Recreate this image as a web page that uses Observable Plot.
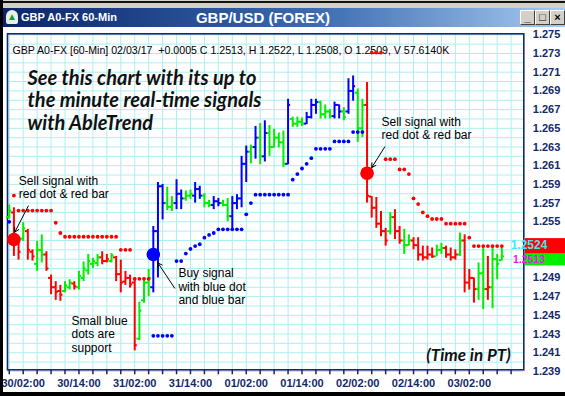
<!DOCTYPE html>
<html><head><meta charset="utf-8">
<script src="https://cdn.jsdelivr.net/npm/d3@7"></script>
<script src="https://cdn.jsdelivr.net/npm/@observablehq/plot@0.6"></script>
<style>
body{margin:0;background:#fff;}
#win{position:relative;width:565px;height:396px;overflow:hidden;background:#fff;font-family:"Liberation Sans",Arial,sans-serif;}
#win svg{position:absolute;left:0;top:0;}
.abs{position:absolute;}
.btn{position:absolute;top:10px;width:13px;height:13px;background:#d4d0c8;border-top:1px solid #fff;border-left:1px solid #fff;border-right:1px solid #404040;border-bottom:1px solid #404040;box-sizing:content-box;font:bold 11px "Liberation Sans",Arial,sans-serif;color:#000;text-align:center;line-height:13px;}
</style></head>
<body>
<div id="win">
</div>
<script>
// ---------------- data ----------------
const firstBarHour = -3; // first bar = 29/23:00, hours counted from 30/02:00
const barColor = ["g","r","r","g","r","r","g","g","r","r",
 "r","r","g","g","r","g","g","g","g","g",
 "r","r","g","r","r","r","r","r","g","g",
 "g","b","b","b","g","g","b","b","g","g",
 "b","b","g","g","b","b","g","g","b","b",
 "b","b","g","b","g","b","g","g","g","g",
 "b","g","g","g","b","b","b","g","g","g",
 "b","b","g","b","b","g","g","r","r","r",
 "r","r","g","r","r","g","g","r","r","r",
 "r","r","g","g","r","r","r","g","r","r",
 "r","g","g","r","g","g","g"];
const open = [1.2555,1.2560,1.2530,1.2532,1.2540,1.2518,1.2505,1.2520,1.2515,1.2490,
 1.2480,1.2476,1.2476,1.2480,1.2484,1.2480,1.2490,1.2498,1.2505,1.2506,
 1.2512,1.2508,1.2508,1.2512,1.2494,1.2486,1.2490,1.2485,1.2425,1.2466,
 1.2485,1.2480,1.2540,1.2588,1.2570,1.2566,1.2570,1.2580,1.2575,1.2578,
 1.2578,1.2585,1.2578,1.2570,1.2568,1.2572,1.2570,1.2568,1.2556,1.2570,
 1.2575,1.2612,1.2625,1.2630,1.2640,1.2620,1.2645,1.2630,1.2640,1.2635,
 1.2612,1.2660,1.2655,1.2657,1.2655,1.2662,1.2675,1.2678,1.2665,1.2668,
 1.2663,1.2675,1.2668,1.2668,1.2690,1.2688,1.2650,1.2675,1.2577,1.2565,
 1.2548,1.2540,1.2540,1.2555,1.2540,1.2530,1.2525,1.2530,1.2525,1.2515,
 1.2512,1.2515,1.2513,1.2520,1.2522,1.2515,1.2512,1.2515,1.2530,1.2485,
 1.2490,1.2478,1.2495,1.2478,1.2480,1.2510,1.2509];
const high = [1.2568,1.2565,1.2533,1.2549,1.2542,1.2520,1.2529,1.2536,1.2518,1.2493,
 1.2486,1.2482,1.2486,1.2488,1.2486,1.2497,1.2507,1.2515,1.2511,1.2515,
 1.2518,1.2515,1.2516,1.2513,1.2509,1.2497,1.2493,1.2490,1.2464,1.2490,
 1.2499,1.2545,1.2592,1.2590,1.2587,1.2577,1.2595,1.2584,1.2583,1.2584,
 1.2592,1.2588,1.2580,1.2573,1.2577,1.2575,1.2573,1.2575,1.2577,1.2579,
 1.2620,1.2631,1.2632,1.2652,1.2655,1.2658,1.2653,1.2649,1.2645,1.2647,
 1.2681,1.2662,1.2662,1.2661,1.2667,1.2681,1.2681,1.2679,1.2675,1.2670,
 1.2678,1.2675,1.2672,1.2703,1.2706,1.2692,1.2681,1.2699,1.2577,1.2576,
 1.2561,1.2543,1.2560,1.2563,1.2545,1.2542,1.2536,1.2533,1.2533,1.2524,
 1.2524,1.2522,1.2525,1.2527,1.2524,1.2522,1.2520,1.2538,1.2536,1.2499,
 1.2490,1.2506,1.2524,1.2513,1.2524,1.2515,1.2522];
const low = [1.2553,1.2513,1.2509,1.2529,1.2509,1.2508,1.2497,1.2506,1.2497,1.2472,
 1.2466,1.2465,1.2474,1.2477,1.2477,1.2477,1.2486,1.2493,1.2500,1.2502,
 1.2504,1.2506,1.2506,1.2486,1.2474,1.2482,1.2479,1.2412,1.2423,1.2463,
 1.2470,1.2474,1.2490,1.2552,1.2562,1.2561,1.2563,1.2563,1.2572,1.2574,
 1.2570,1.2574,1.2565,1.2565,1.2563,1.2566,1.2566,1.2550,1.2541,1.2563,
 1.2565,1.2592,1.2612,1.2617,1.2611,1.2614,1.2620,1.2629,1.2629,1.2608,
 1.2611,1.2651,1.2651,1.2652,1.2654,1.2660,1.2665,1.2660,1.2660,1.2660,
 1.2660,1.2660,1.2658,1.2665,1.2679,1.2635,1.2640,1.2570,1.2554,1.2543,
 1.2534,1.2524,1.2536,1.2531,1.2526,1.2515,1.2524,1.2520,1.2508,1.2508,
 1.2509,1.2511,1.2513,1.2515,1.2511,1.2508,1.2509,1.2513,1.2474,1.2477,
 1.2463,1.2466,1.2456,1.2466,1.2457,1.2488,1.2508];
const close = [1.2562,1.2530,1.2518,1.2543,1.2520,1.2513,1.2520,1.2515,1.2500,1.2480,
 1.2475,1.2472,1.2482,1.2485,1.2481,1.2492,1.2500,1.2508,1.2508,1.2512,
 1.2508,1.2510,1.2514,1.2494,1.2485,1.2490,1.2483,1.2418,1.2455,1.2485,
 1.2490,1.2540,1.2588,1.2570,1.2566,1.2570,1.2580,1.2575,1.2578,1.2580,
 1.2585,1.2578,1.2570,1.2568,1.2572,1.2570,1.2568,1.2556,1.2570,1.2575,
 1.2612,1.2625,1.2630,1.2640,1.2620,1.2645,1.2630,1.2640,1.2635,1.2612,
 1.2675,1.2655,1.2657,1.2655,1.2662,1.2675,1.2678,1.2665,1.2668,1.2663,
 1.2675,1.2668,1.2662,1.2690,1.2695,1.2650,1.2675,1.2578,1.2565,1.2548,
 1.2540,1.2530,1.2555,1.2540,1.2530,1.2525,1.2530,1.2525,1.2515,1.2512,
 1.2515,1.2513,1.2520,1.2522,1.2515,1.2512,1.2515,1.2530,1.2485,1.2490,
 1.2478,1.2495,1.2478,1.2480,1.2510,1.2505,1.2513];
// small red dots (resistance / stop) per bar
const resDot = [null,1.2578,1.2562,1.2562,1.2562,1.2562,1.2562,1.2562,1.2562,1.2562,
 1.2549,1.2538,1.2534,1.2534,1.2534,1.2534,1.2534,1.2534,1.2534,1.2534,
 1.2534,1.2534,1.2534,1.2534,1.2520,1.2520,1.2520,1.2489,1.2489,1.2489,
 1.2489,null,null,null,null,null,null,null,null,null,
 null,null,null,null,null,null,null,null,null,null,
 null,null,null,null,null,null,null,null,null,null,
 null,null,null,null,null,null,null,null,null,null,
 null,null,null,null,null,null,null,null,1.2731,1.2731,
 1.2731,1.2617,1.2617,1.2617,1.2606,1.2606,1.2601,1.2575,1.2569,1.2560,
 1.2556,1.2553,1.2553,1.2553,1.2548,1.2548,1.2548,1.2548,1.2548,1.2533,
 1.2524,1.2524,1.2524,1.2524,1.2524,1.2524,1.2524];
// small blue dots (support) per bar
const supDot = [1.2550,null,null,null,null,null,null,null,null,null,
 null,null,null,null,null,null,null,null,null,null,
 null,null,null,null,null,null,null,null,null,null,
 null,1.2428,1.2428,1.2428,1.2428,1.2428,1.2508,1.2508,1.2516,1.2521,
 1.2524,1.2526,1.2533,1.2536,1.2538,1.2542,1.2542,1.2542,1.2542,1.2542,
 1.2542,1.2558,1.2570,1.2579,1.2579,1.2579,1.2579,1.2579,1.2579,1.2579,
 1.2579,1.2595,1.2601,1.2607,1.2612,1.2618,1.2628,1.2628,1.2628,1.2628,
 1.2636,1.2636,1.2636,1.2636,1.2646,1.2646,1.2646,null,null,null,
 null,null,null,null,null,null,null,null,null,null,
 null,null,null,null,null,null,null,null,null,null,
 null,null,null,null,null,null,null];
// big signal dots
const signalBar = [1, 31, 77];
const signalPrice = [1.2531, 1.2515, 1.2602];
const signalColor = ["r", "b", "r"];
// axis labels (1.253 and 1.251 are hidden behind the last-price boxes)
const xLabelHours = [0, 12, 24, 36, 48, 60, 72, 84, 96];
const xLabels = ["30/02:00","30/14:00","31/02:00","31/14:00","01/02:00","01/14:00","02/02:00","02/14:00","03/02:00"];
const yTicks = [1.239,1.241,1.243,1.245,1.247,1.249,1.255,1.257,1.259,1.261,1.263,1.265,1.267,1.269,1.271,1.273,1.275];
// last price boxes
const lastPrices = [1.2513, 1.2524];
const lastBoxFill = ["#00ee00", "#ff0000"];
const lastBoxText = ["#e020e0", "#40e8f0"];
// texts
const headerText = "GBP A0-FX [60-Min] 02/03/17  +0.0005 C 1.2513, H 1.2522, L 1.2508, O 1.2509, V 57.6140K";
const promoText = "See this chart with its up to\nthe minute real-time signals\nwith AbleTrend";
const noteText = ["Sell signal with\nred dot & red bar", "Buy signal\nwith blue dot\nand blue bar", "Small blue\ndots are\nsupport", "Sell signal with\nred dot & red bar"];
const noteHour = [-0.95, 33.4, 10.4, 77.1];
const notePrice = [1.2587, 1.2481, 1.2430, 1.2650];
const arrowFromHour = [1.1, 32.6, 77.8];
const arrowFromPrice = [1.2567, 1.2479, 1.2630];
const arrowToHour = [-1.8, 29.0, 75.0];
const arrowToPrice = [1.2539, 1.2506, 1.2608];

// ---------------- build ----------------
const colorOf = {r: "#ff0000", g: "#00ee00", b: "#0000ff"};
const bars = open.map((o, i) => ({
  h: firstBarHour + i, o, hi: high[i], lo: low[i], c: close[i],
  col: colorOf[barColor[i]], res: resDot[i], sup: supDot[i]
}));
const signals = signalBar.map((b, i) => ({h: firstBarHour + b, p: signalPrice[i], col: colorOf[signalColor[i]]}));
const notes = noteText.map((t, i) => ({t, h: noteHour[i], p: notePrice[i]}));
const arrows = arrowFromHour.map((h, i) => ({x1: h, y1: arrowFromPrice[i], x2: arrowToHour[i], y2: arrowToPrice[i]}));
const navy = "#12296b";
const tickLen = 0.55;

const chart = Plot.plot({
  width: 565, height: 396,
  marginLeft: 7, marginRight: 41.7, marginTop: 33.3, marginBottom: 26.7,
  x: {domain: [-3.378, 107.73]},
  y: {domain: [1.239171, 1.275107]},
  color: {type: "identity"},
  style: {fontFamily: "'Liberation Sans', Arial, sans-serif", background: "transparent", overflow: "visible"},
  marks: [
    Plot.gridY(d3.range(1239, 1276).map(v => v / 1000), {stroke: "#aaf0f0", strokeOpacity: 1}),
    Plot.gridX(d3.range(-3, 108, 3), {stroke: "#aaf0f0", strokeOpacity: 1}),
    Plot.frame({stroke: navy, strokeWidth: 1.6}),
    Plot.axisX({ticks: d3.range(-3, 106, 3), tickSize: 5, tickPadding: 4, stroke: navy, strokeWidth: 1.5,
      fill: navy, fontSize: 11, fontWeight: "bold",
      tickFormat: h => { const k = xLabelHours.indexOf(h); return k >= 0 ? xLabels[k] : ""; }}),
    Plot.axisY({anchor: "right", ticks: yTicks, tickSize: 0, tickPadding: 9, fill: navy,
      fontSize: 11, fontWeight: "bold", tickFormat: d3.format(".3f")}),
    Plot.text([headerText], {frameAnchor: "top-left", dx: 5, dy: 17, lineAnchor: "middle", textAnchor: "start",
      fontSize: 10.6, fill: "#000"}),
    Plot.ruleX(bars, {x: "h", y1: "lo", y2: "hi", stroke: "col", strokeWidth: 2}),
    Plot.ruleY(bars, {y: "o", x1: d => d.h - tickLen, x2: "h", stroke: "col", strokeWidth: 2}),
    Plot.ruleY(bars, {y: "c", x1: "h", x2: d => d.h + tickLen, stroke: "col", strokeWidth: 2}),
    Plot.dot(bars.filter(d => d.res != null), {x: "h", y: "res", r: 1.9, fill: "#ff0000"}),
    Plot.dot(bars.filter(d => d.sup != null), {x: "h", y: "sup", r: 1.9, fill: "#0000ff"}),
    Plot.dot(signals, {x: "h", y: "p", r: 6.8, fill: "col"}),
    Plot.text([promoText], {frameAnchor: "top-left", dx: 20, dy: 35, lineAnchor: "top", textAnchor: "start",
      fontSize: 20, fontWeight: "bold", fontStyle: "italic", lineHeight: 1.13, fill: "#111",
      fontFamily: "Lato, sans-serif"}),
    Plot.text(["(Time in PT)"], {frameAnchor: "bottom-right", dx: -13, dy: -14, lineAnchor: "middle", textAnchor: "end",
      fontSize: 17, fontWeight: "bold", fontStyle: "italic", fill: "#111", fontFamily: "Lato, sans-serif"}),
    Plot.text(notes, {x: "h", y: "p", text: "t", textAnchor: "start", lineAnchor: "middle", fontSize: 12, lineHeight: 1.12, fill: "#000"}),
    Plot.arrow(arrows, {x1: "x1", y1: "y1", x2: "x2", y2: "y2", stroke: "#000", strokeWidth: 1, headLength: 7})
  ]
});

// last-price boxes on the right price scale (red box drawn over the green one)
const ys = chart.scale("y");
const svg = d3.select(chart);
lastPrices.forEach((p, i) => {
  const y = ys.apply(p);
  const lower = i === 0;
  svg.append("rect").attr("x", 525).attr("y", y - 7.5).attr("width", 42).attr("height", lower ? 17 : 15).attr("fill", lastBoxFill[i]);
  svg.append("text").attr("x", 529).attr("y", lower ? y + 3.5 : y - 0.5).attr("dy", "0.36em").attr("fill", lastBoxText[i])
    .attr("font-size", lower ? 10.5 : 12).attr("font-weight", "bold").attr("font-family", "'Liberation Sans', Arial, sans-serif")
    .text(p.toFixed(4));
});

const win = document.getElementById("win");
win.appendChild(chart);

// window chrome (title bar, borders, buttons)
win.insertAdjacentHTML("beforeend", `
<div class="abs" style="left:0;top:0;width:565px;height:8px;background:#d4d0c8;"></div>
<div class="abs" style="left:0;top:1px;width:565px;height:2px;background:#111;"></div>
<div class="abs" style="left:3px;top:8px;width:562px;height:19px;background:linear-gradient(to right,#0a246a 0%,#3a6ab0 55%,#a6caf0 100%);"></div>
<div class="abs" style="left:6px;top:10px;width:12px;height:14px;border-radius:6px 6px 2px 2px;background:#e8f0e8;"></div>
<div class="abs" style="left:7px;top:11px;width:10px;height:12px;color:#10a030;font-size:10px;line-height:12px;text-align:center;">&#9650;</div>
<div class="abs" style="left:21px;top:9px;height:17px;line-height:17px;color:#fff;font-weight:bold;font-size:11px;">GBP A0-FX 60-Min</div>
<div class="abs" style="left:163px;top:8px;width:200px;height:19px;line-height:19px;color:#fff;font-weight:bold;font-size:15px;text-align:center;">GBP/USD (FOREX)</div>
<div class="btn" style="left:520px;">_</div>
<div class="btn" style="left:535px;">&#9633;</div>
<div class="btn" style="left:550px;">&#215;</div>
<div class="abs" style="left:0;top:0;width:3px;height:396px;background:#000;"></div>
<div class="abs" style="left:0;top:392px;width:565px;height:4px;background:#000;"></div>
`);
</script>
</body></html>
